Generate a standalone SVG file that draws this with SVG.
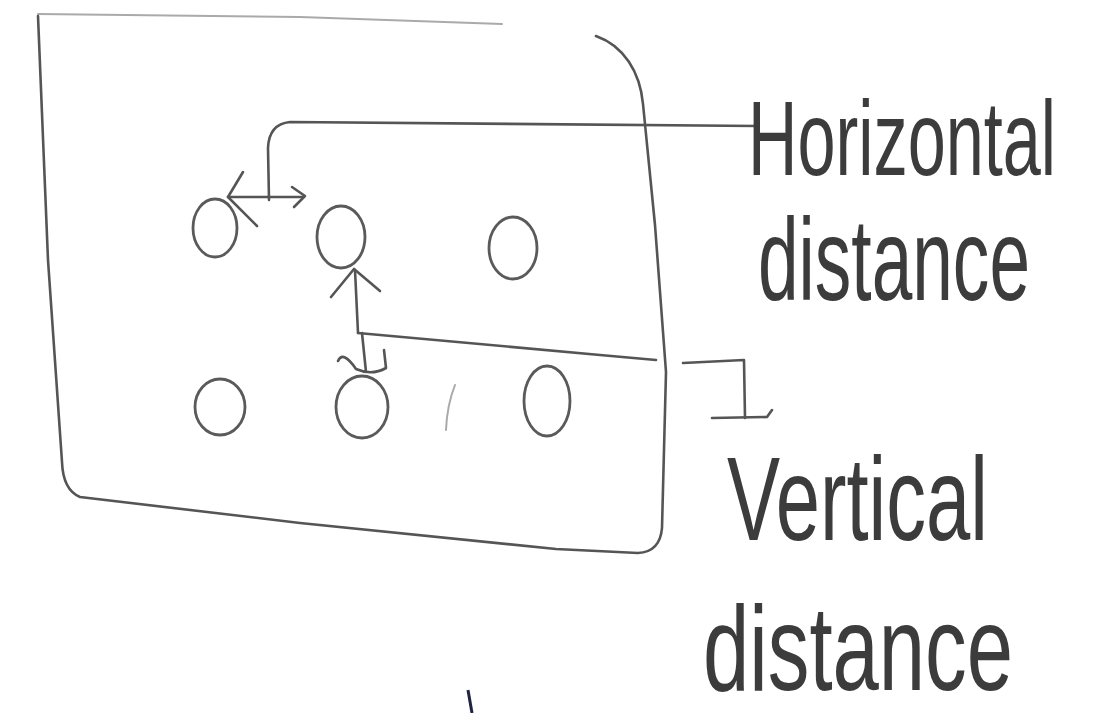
<svg xmlns="http://www.w3.org/2000/svg" width="1098" height="713" viewBox="0 0 1098 713">
  <style>
    .ink { fill: none; stroke: #555; stroke-width: 2.6; stroke-linecap: round; stroke-linejoin: round; }
    .faint { fill: none; stroke: #aaa; stroke-width: 2; stroke-linecap: round; }
    .node { fill: none; stroke: #5a5a5a; stroke-width: 2.8; }
    .lbl { font-family: "Liberation Sans", Arial, sans-serif; fill: #3c3c3c; }
  </style>
  <rect width="1098" height="713" fill="#ffffff"/>

  <g id="frame">
    <path class="faint" d="M 38 14 L 300 17 L 502 24"/>
    <path class="ink" d="M 596 36 C 624 46 640 72 643 104 L 655 225 L 666 372 L 662 528 Q 660 552 638 553 L 556 549 L 300 523 L 80 497 Q 63 490 62 462 L 48 260 L 38 16"/>
  </g>

  <g id="node-a"><ellipse class="node" cx="215" cy="228" rx="22" ry="29"/></g>
  <g id="node-b"><ellipse class="node" cx="341" cy="237" rx="24" ry="31"/></g>
  <g id="node-c"><ellipse class="node" cx="513" cy="248" rx="24" ry="31"/></g>
  <g id="node-d"><ellipse class="node" cx="220" cy="407" rx="25" ry="28"/></g>
  <g id="node-e"><ellipse class="node" cx="362" cy="407" rx="26" ry="31"/></g>
  <g id="node-f"><ellipse class="node" cx="547" cy="401" rx="23" ry="35"/></g>

  <g id="connectors">
    <!-- horizontal distance -->
    <path class="ink" d="M 757 126 L 290 122 Q 269 124 268 148 L 269 200"/>
    <path class="ink" d="M 228 197 L 303 197"/>
    <path class="ink" d="M 243 172 L 228 197 L 257 226"/>
    <path class="ink" d="M 292 187 L 305 196 L 294 207"/>
    <!-- vertical distance -->
    <path class="ink" d="M 355 270 L 358 333"/>
    <path class="ink" d="M 331 297 L 354 269 L 380 291"/>
    <path class="ink" d="M 358 333 L 600 355 L 656 360"/>
    <path class="ink" d="M 683 363 L 744 360 L 745 418"/>
    <path class="ink" d="M 712 418 L 767 417 L 772 410"/>
    <path class="ink" d="M 362 333 L 366 372 M 338 361 Q 343 350 356 369 Q 372 376 386 368 L 384 350"/>
  </g>

  <g id="marks">
    <path class="faint" d="M 455 385 Q 447 405 446 430"/>
    <path d="M 468 690 L 472 713" stroke="#1f2340" stroke-width="3" fill="none"/>
  </g>

  <g id="labels">
    <text class="lbl" transform="translate(748,175) scale(1,1.4)" font-size="76" textLength="308" lengthAdjust="spacingAndGlyphs">Horizontal</text>
    <text class="lbl" transform="translate(758,300) scale(1,1.35)" font-size="86" textLength="272" lengthAdjust="spacingAndGlyphs">distance</text>
    <text class="lbl" transform="translate(727,540) scale(1,1.15)" font-size="104" textLength="261" lengthAdjust="spacingAndGlyphs">Vertical</text>
    <text class="lbl" transform="translate(703,690) scale(1,1.2)" font-size="100" textLength="310" lengthAdjust="spacingAndGlyphs">distance</text>
  </g>
</svg>
